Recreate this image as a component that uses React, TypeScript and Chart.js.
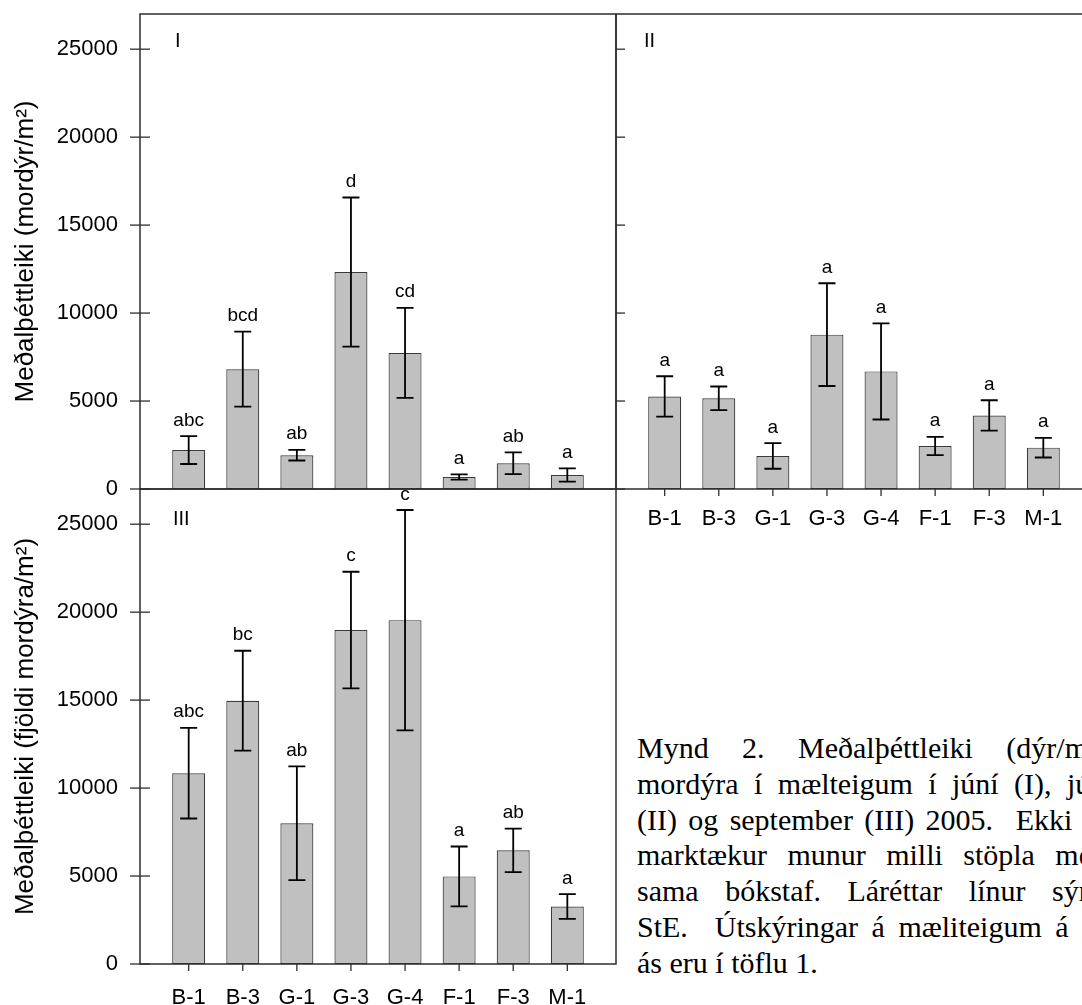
import React, { useEffect, useRef } from "react";
import { Chart, registerables } from "chart.js";

Chart.register(...registerables);

// ---------- data ----------
const categories = ["B-1", "B-3", "G-1", "G-3", "G-4", "F-1", "F-3", "M-1"];
const yTickValues = [0, 5000, 10000, 15000, 20000, 25000];
const yMax = 27000;

// Panel I (June)
const juneMeans = [2215, 6810, 1920, 12330, 7735, 680, 1465, 795];
const juneSE = [795, 2130, 300, 4240, 2560, 150, 615, 380];
const juneLetters = ["abc", "bcd", "ab", "d", "cd", "a", "ab", "a"];

// Panel II (July)
const julyMeans = [5260, 5155, 1880, 8775, 6685, 2445, 4180, 2350];
const julySE = [1150, 670, 730, 2920, 2735, 520, 865, 560];
const julyLetters = ["a", "a", "a", "a", "a", "a", "a", "a"];

// Panel III (September)
const septMeans = [10845, 14965, 8000, 18980, 19545, 4980, 6460, 3267];
const septSE = [2575, 2840, 3230, 3315, 6260, 1700, 1235, 703];
const septLetters = ["abc", "bc", "ab", "c", "c", "a", "ab", "a"];

const titleJune = "Meðalþéttleiki (mordýr/m²)";
const titleSept = "Meðalþéttleiki (fjöldi mordýra/m²)";

const captionLines = [
  "Mynd 2. Meðalþéttleiki (dýr/m²)",
  "mordýra í mælteigum í júní (I), júlí",
  "(II) og september (III) 2005.\u00a0 Ekki er",
  "marktækur munur milli stöpla með",
  "sama bókstaf. Láréttar línur sýna",
  "StE.\u00a0 Útskýringar á mæliteigum á x-",
];
const captionLast = "ás eru í töflu 1.";

// ---------- styles ----------
const FONT = '"Liberation Sans", Arial, Helvetica, sans-serif';
const FRAME = "#2e2e2e";

type PanelOpts = {
  means: number[];
  se: number[];
  letters: string[];
  label: string;
  labelDx: number;
  labelDy: number;
  showY: boolean;
  yTitle?: string;
  showX: boolean;
  xHeight: number;
  xPad: number;
  padding: { top: number; right: number; bottom: number; left: number };
  frame: "box" | "open";
  yTickInner: boolean;
};

function makeConfig(o: PanelOpts): any {
  const panelPlugin = {
    id: "panelDecor",
    afterDraw(chart: any) {
      const ctx = chart.ctx;
      const xs = chart.scales.x;
      const ys = chart.scales.y;
      const ca = chart.chartArea;
      ctx.save();
      // error bars
      ctx.strokeStyle = "#000";
      ctx.lineWidth = 1.8;
      o.means.forEach((m, i) => {
        const x = xs.getPixelForValue(i);
        const yt = ys.getPixelForValue(m + o.se[i]);
        const yb = ys.getPixelForValue(m - o.se[i]);
        ctx.beginPath();
        ctx.moveTo(x, yt);
        ctx.lineTo(x, yb);
        ctx.moveTo(x - 8.5, yt);
        ctx.lineTo(x + 8.5, yt);
        ctx.moveTo(x - 8.5, yb);
        ctx.lineTo(x + 8.5, yb);
        ctx.stroke();
        // letters
        ctx.fillStyle = "#000";
        ctx.font = `19px ${FONT}`;
        ctx.textAlign = "center";
        ctx.textBaseline = "alphabetic";
        ctx.fillText(o.letters[i], x, yt - 10.5);
      });
      // frame
      ctx.strokeStyle = FRAME;
      ctx.lineWidth = 1.5;
      if (o.frame === "box") {
        ctx.strokeRect(ca.left, ca.top, ca.right - ca.left, ca.bottom - ca.top);
      } else {
        ctx.beginPath();
        ctx.moveTo(chart.width, ca.top);
        ctx.lineTo(ca.left, ca.top);
        ctx.lineTo(ca.left, ca.bottom);
        ctx.lineTo(chart.width, ca.bottom);
        ctx.stroke();
      }
      // y ticks
      ctx.lineWidth = 1.3;
      yTickValues.forEach((v) => {
        const y = ys.getPixelForValue(v);
        ctx.beginPath();
        if (o.yTickInner) {
          ctx.moveTo(ca.left, y);
          ctx.lineTo(ca.left + 9, y);
        } else {
          ctx.moveTo(ca.left - 10, y);
          ctx.lineTo(ca.left + 10, y);
        }
        ctx.stroke();
      });
      // x ticks
      if (o.showX) {
        categories.forEach((_, i) => {
          const x = xs.getPixelForValue(i);
          ctx.beginPath();
          ctx.moveTo(x, ca.bottom);
          ctx.lineTo(x, ca.bottom + 7);
          ctx.stroke();
        });
      }
      // panel label
      ctx.fillStyle = "#000";
      ctx.font = `20px ${FONT}`;
      ctx.textAlign = "left";
      ctx.textBaseline = "alphabetic";
      ctx.fillText(o.label, ca.left + o.labelDx, ca.top + o.labelDy);
      ctx.restore();
    },
  };

  return {
    type: "bar",
    data: {
      datasets: [
        {
          data: o.means.map((m, i) => ({ x: i, y: m })),
          backgroundColor: "#c0c0c0",
          borderColor: "#3a3a3a",
          borderWidth: 1.2,
          borderSkipped: false,
          barPercentage: 0.61,
          categoryPercentage: 1,
        },
      ],
    },
    options: {
      responsive: false,
      animation: false,
      devicePixelRatio: 1,
      events: [],
      layout: { padding: o.padding },
      plugins: { legend: { display: false }, tooltip: { enabled: false } },
      scales: {
        x: {
          type: "linear",
          min: -0.9,
          max: 7.9,
          offset: false,
          display: o.showX,
          afterBuildTicks: (s: any) => {
            s.ticks = categories.map((_, i) => ({ value: i }));
          },
          afterFit: (s: any) => {
            s.height = o.showX ? o.xHeight : 0;
            s.paddingLeft = 0;
            s.paddingRight = 0;
          },
          ticks: {
            autoSkip: false,
            maxRotation: 0,
            minRotation: 0,
            padding: o.xPad,
            color: "#000",
            font: { family: FONT, size: 22 },
            callback: (v: any) => categories[Math.round(v)] ?? "",
          },
          grid: { display: false, drawTicks: false, offset: false },
          border: { display: false },
        },
        y: {
          type: "linear",
          min: 0,
          max: yMax,
          display: o.showY,
          afterBuildTicks: (s: any) => {
            s.ticks = yTickValues.map((v) => ({ value: v }));
          },
          afterFit: (s: any) => {
            s.width = o.showY ? 140 : 0;
            s.paddingTop = 0;
            s.paddingBottom = 0;
          },
          ticks: {
            padding: 22,
            color: "#000",
            font: { family: FONT, size: 22 },
            callback: (v: any) => String(v),
          },
          grid: { display: false, drawTicks: false },
          border: { display: false },
          title: {
            display: !!o.yTitle,
            text: o.yTitle || "",
            color: "#000",
            font: { family: FONT, size: 26 },
            padding: { top: 10, bottom: 0 },
          },
        },
      },
    },
    plugins: [panelPlugin],
  };
}

export default function App() {
  const r1 = useRef<HTMLCanvasElement>(null);
  const r2 = useRef<HTMLCanvasElement>(null);
  const r3 = useRef<HTMLCanvasElement>(null);

  useEffect(() => {
    const c1 = new Chart(
      r1.current as HTMLCanvasElement,
      makeConfig({
        means: juneMeans,
        se: juneSE,
        letters: juneLetters,
        label: "I",
        labelDx: 35,
        labelDy: 33,
        showY: true,
        yTitle: titleJune,
        showX: false,
        xHeight: 0,
        xPad: 0,
        padding: { top: 14, right: 14, bottom: 11, left: 0 },
        frame: "box",
        yTickInner: false,
      })
    );
    const c2 = new Chart(
      r2.current as HTMLCanvasElement,
      makeConfig({
        means: julyMeans,
        se: julySE,
        letters: julyLetters,
        label: "II",
        labelDx: 28,
        labelDy: 33,
        showY: false,
        showX: true,
        xHeight: 71,
        xPad: 17,
        padding: { top: 14, right: 8, bottom: 0, left: 56 },
        frame: "open",
        yTickInner: true,
      })
    );
    const c3 = new Chart(
      r3.current as HTMLCanvasElement,
      makeConfig({
        means: septMeans,
        se: septSE,
        letters: septLetters,
        label: "III",
        labelDx: 33,
        labelDy: 36,
        showY: true,
        yTitle: titleSept,
        showX: true,
        xHeight: 41,
        xPad: 21,
        padding: { top: 9, right: 14, bottom: 0, left: 0 },
        frame: "box",
        yTickInner: false,
      })
    );
    return () => {
      c1.destroy();
      c2.destroy();
      c3.destroy();
    };
  }, []);

  const lineStyle: React.CSSProperties = {
    textAlign: "justify",
    textAlignLast: "justify" as any,
    height: 35.8,
    whiteSpace: "normal",
  };

  return (
    <div
      style={{
        position: "absolute",
        left: 0,
        top: 0,
        width: 1082,
        height: 1005,
        overflow: "hidden",
        background: "#fff",
      }}
    >
      <canvas
        ref={r1}
        width={630}
        height={500}
        style={{ position: "absolute", left: 0, top: 0, width: 630, height: 500 }}
      />
      <canvas
        ref={r2}
        width={540}
        height={560}
        style={{ position: "absolute", left: 560, top: 0, width: 540, height: 560 }}
      />
      <canvas
        ref={r3}
        width={630}
        height={525}
        style={{ position: "absolute", left: 0, top: 480, width: 630, height: 525 }}
      />
      <div
        style={{
          position: "absolute",
          left: 637,
          top: 730,
          width: 470,
          fontFamily: '"Liberation Serif", "Times New Roman", serif',
          fontSize: 30,
          lineHeight: "35.8px",
          color: "#000",
        }}
      >
        {captionLines.map((t, i) => (
          <div key={i} style={lineStyle}>
            {t}
          </div>
        ))}
        <div style={{ height: 35.8 }}>{captionLast}</div>
      </div>
    </div>
  );
}
